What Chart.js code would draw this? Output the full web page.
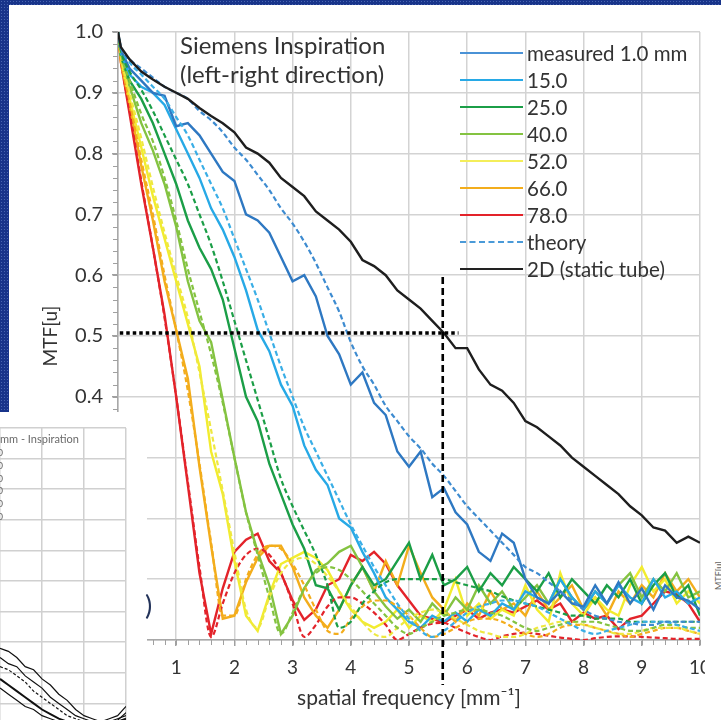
<!DOCTYPE html>
<html>
<head>
<meta charset="utf-8">
<script src="https://cdn.jsdelivr.net/npm/chart.js@4.4.1/dist/chart.umd.min.js"></script>
<style>
html, body { margin: 0; padding: 0; background: #fff; }
#stage { position: relative; width: 721px; height: 720px; overflow: hidden; background: #fff; font-family: Lato, 'Open Sans', sans-serif; color: #333; }
.blue { position: absolute; background-color: #18348a; background-image: radial-gradient(rgba(120,150,215,0.5) 0.6px, transparent 1px); background-size: 3px 3px; }
#main { position: absolute; left: 0; top: 0; }
#note { position: absolute; left: 180px; top: 30px; font-size: 24px; line-height: 29px; white-space: nowrap; }
#legend { position: absolute; left: 460px; top: 40px; }
.row { height: 26.9px; display: flex; align-items: center; font-size: 20.5px; white-space: nowrap; }
.row i { display: inline-block; width: 63px; height: 0; border-top: 2.2px solid; margin-right: 4px; }
.row i.dash { border-top-style: dashed; }
.cover { position: absolute; background: #fff; overflow: visible; }
#paren { position: absolute; left: 145px; top: 588px; font-size: 27px; color: #23335a; }
#insetBox { position: absolute; left: 0; top: 427px; width: 127px; height: 293px; background: #fff; overflow: hidden; }
#inset { position: absolute; left: 0; top: 0; }
#insetTitle { position: absolute; left: 0; top: 5px; font-size: 11px; color: #6a6a6a; white-space: nowrap; }
.insetKey { position: absolute; left: -22px; width: 25px; text-align: right; font-size: 10px; line-height: 12px; color: #6a6a6a; }
#sideLabel { position: absolute; left: 705px; top: 570px; width: 28px; font-size: 9px; color: #666; transform: rotate(-90deg); transform-origin: 14px 6px; }
</style>
</head>
<body>
<div id="stage">
  <canvas id="main" width="721" height="720"></canvas>
  <div id="note">Siemens Inspiration<br>(left-right direction)</div>
  <div id="legend"></div>

  <div class="blue" style="left:0;top:0;width:721px;height:5px;"></div>
  <div class="blue" style="left:0;top:0;width:9px;height:412px;"></div>

  <div class="cover" style="left:0;top:412px;width:147px;height:243px;"></div>
  <div id="paren">)</div>
  <div id="insetBox">
    <canvas id="inset" width="127" height="307"></canvas>
    <div id="insetTitle">mm - Inspiration</div>
  </div>
  <div class="cover" style="left:705px;top:412px;width:16px;height:308px;"></div>
  <div id="sideLabel">MTF[u]</div>
</div>

<script>
// spatial frequency samples [mm^-1]
const freq = [0, 0.05, 0.2, 0.4, 0.6, 0.8, 1.0, 1.2, 1.4,
  1.6, 1.8, 2.0, 2.2, 2.4, 2.6, 2.8, 3.0, 3.2, 3.4,
  3.6, 3.8, 4.0, 4.2, 4.4, 4.6, 4.8, 5.0, 5.2, 5.4,
  5.6, 5.8, 6.0, 6.2, 6.4, 6.6, 6.8, 7.0, 7.2, 7.4,
  7.6, 7.8, 8.0, 8.2, 8.4, 8.6, 8.8, 9.0, 9.2, 9.4,
  9.6, 9.8, 10.0];

// 2D (static tube)
const mtfStatic = [1.0, 0.975, 0.955, 0.935, 0.922, 0.91, 0.90, 0.89, 0.875,
  0.862, 0.85, 0.835, 0.81, 0.80, 0.785, 0.76, 0.745, 0.73, 0.705,
  0.69, 0.675, 0.655, 0.625, 0.615, 0.60, 0.575, 0.56, 0.545, 0.525,
  0.505, 0.48, 0.48, 0.445, 0.42, 0.41, 0.39, 0.36, 0.35, 0.335,
  0.32, 0.30, 0.285, 0.27, 0.255, 0.24, 0.22, 0.205, 0.185, 0.18,
  0.16, 0.17, 0.16];

// measured curves
const meas1 = [1.0, 0.97, 0.94, 0.92, 0.90, 0.895, 0.845, 0.85, 0.83,
  0.80, 0.77, 0.755, 0.70, 0.69, 0.67, 0.63, 0.59, 0.60, 0.565,
  0.50, 0.47, 0.42, 0.44, 0.39, 0.37, 0.31, 0.285, 0.31, 0.235,
  0.25, 0.21, 0.19, 0.145, 0.13, 0.175, 0.16, 0.10, 0.07, 0.06,
  0.08, 0.06, 0.055, 0.09, 0.06, 0.095, 0.06, 0.085, 0.05, 0.09,
  0.07, 0.065, 0.05];
const meas15 = [1.0, 0.965, 0.93, 0.91, 0.90, 0.88, 0.84, 0.80, 0.76,
  0.71, 0.675, 0.63, 0.575, 0.51, 0.475, 0.42, 0.385, 0.32, 0.28,
  0.255, 0.20, 0.185, 0.145, 0.11, 0.07, 0.05, 0.03, 0.02, 0.04,
  0.03, 0.045, 0.03, 0.05, 0.04, 0.06, 0.05, 0.08, 0.07, 0.06,
  0.10, 0.07, 0.05, 0.08, 0.06, 0.09, 0.07, 0.06, 0.10, 0.07,
  0.08, 0.06, 0.07];
const meas25 = [1.0, 0.96, 0.92, 0.89, 0.85, 0.80, 0.75, 0.69, 0.645,
  0.61, 0.56, 0.48, 0.40, 0.36, 0.29, 0.24, 0.19, 0.15, 0.09,
  0.085, 0.05, 0.09, 0.12, 0.09, 0.10, 0.13, 0.16, 0.10, 0.14,
  0.09, 0.10, 0.12, 0.08, 0.11, 0.09, 0.12, 0.10, 0.08, 0.11,
  0.07, 0.10, 0.08, 0.06, 0.09, 0.07, 0.10, 0.06, 0.09, 0.11,
  0.07, 0.09, 0.04];
const meas40 = [1.0, 0.96, 0.91, 0.85, 0.805, 0.75, 0.68, 0.59, 0.525,
  0.49, 0.395, 0.30, 0.21, 0.145, 0.09, 0.01, 0.04, 0.085, 0.115,
  0.126, 0.145, 0.155, 0.12, 0.08, 0.055, 0.035, 0.05, 0.03, 0.06,
  0.04, 0.07, 0.05, 0.09, 0.06, 0.08, 0.05, 0.07, 0.09, 0.06,
  0.10, 0.07, 0.05, 0.08, 0.06, 0.09, 0.11, 0.07, 0.10, 0.08,
  0.11, 0.07, 0.08];
const meas52 = [1.0, 0.955, 0.89, 0.81, 0.73, 0.66, 0.59, 0.52, 0.45,
  0.31, 0.24, 0.13, 0.04, 0.015, 0.075, 0.125, 0.135, 0.145, 0.135,
  0.115, 0.08, 0.05, 0.03, 0.02, 0.03, 0.05, 0.02, 0.04, 0.03,
  0.05, 0.10, 0.04, 0.06, 0.035, 0.05, 0.04, 0.09, 0.05, 0.03,
  0.11, 0.06, 0.04, 0.07, 0.05, 0.04, 0.09, 0.12, 0.08, 0.10,
  0.06, 0.08, 0.06];
const meas66 = [1.0, 0.95, 0.88, 0.78, 0.69, 0.59, 0.51, 0.43, 0.285,
  0.155, 0.035, 0.04, 0.095, 0.135, 0.155, 0.155, 0.12, 0.07, 0.04,
  0.02, 0.05, 0.09, 0.12, 0.08, 0.13, 0.09, 0.155, 0.11, 0.07,
  0.05, 0.03, 0.06, 0.04, 0.08, 0.05, 0.06, 0.04, 0.08, 0.05,
  0.07, 0.09, 0.05, 0.07, 0.04, 0.08, 0.06, 0.09, 0.07, 0.11,
  0.08, 0.10, 0.07];
const meas78 = [1.0, 0.95, 0.865, 0.75, 0.645, 0.535, 0.40, 0.255, 0.11,
  0.01, 0.085, 0.145, 0.165, 0.175, 0.13, 0.11, 0.065, 0.033, 0.05,
  0.09, 0.10, 0.14, 0.13, 0.145, 0.125, 0.09, 0.065, 0.04, 0.035,
  0.028, 0.04, 0.05, 0.035, 0.045, 0.05, 0.045, 0.055, 0.065, 0.05,
  0.06, 0.03, 0.045, 0.035, 0.04, 0.018, 0.035, 0.04, 0.06, 0.08,
  0.075, 0.06, 0.03];

// theory curves
const theo1 = [1.0, 0.975, 0.955, 0.94, 0.925, 0.91, 0.90, 0.89, 0.87,
  0.855, 0.835, 0.81, 0.79, 0.765, 0.74, 0.71, 0.685, 0.655, 0.62,
  0.58, 0.54, 0.49, 0.45, 0.42, 0.385, 0.36, 0.335, 0.315, 0.29,
  0.27, 0.245, 0.22, 0.20, 0.18, 0.16, 0.14, 0.12, 0.11, 0.095,
  0.08, 0.065, 0.05, 0.04, 0.035, 0.03, 0.028, 0.025, 0.025, 0.03,
  0.03, 0.03, 0.03];
const theo15 = [1.0, 0.975, 0.95, 0.93, 0.91, 0.89, 0.86, 0.83, 0.79,
  0.75, 0.71, 0.66, 0.61, 0.56, 0.505, 0.45, 0.40, 0.35, 0.31,
  0.27, 0.23, 0.19, 0.155, 0.12, 0.09, 0.06, 0.035, 0.015, 0.005,
  0.015, 0.03, 0.045, 0.055, 0.06, 0.065, 0.065, 0.06, 0.055, 0.045,
  0.035, 0.025, 0.015, 0.01, 0.015, 0.02, 0.025, 0.03, 0.03, 0.03,
  0.025, 0.02, 0.015];
const theo25 = [1.0, 0.97, 0.935, 0.905, 0.87, 0.83, 0.79, 0.75, 0.70,
  0.65, 0.59, 0.525, 0.46, 0.395, 0.33, 0.265, 0.22, 0.18, 0.14,
  0.09, 0.02, 0.03, 0.06, 0.08, 0.095, 0.10, 0.10, 0.10, 0.10,
  0.10, 0.095, 0.09, 0.085, 0.08, 0.072, 0.065, 0.06, 0.055, 0.05,
  0.045, 0.04, 0.04, 0.035, 0.035, 0.035, 0.03, 0.03, 0.03, 0.03,
  0.03, 0.03, 0.03];
const theo40 = [1.0, 0.965, 0.92, 0.865, 0.82, 0.76, 0.69, 0.61, 0.54,
  0.47, 0.39, 0.30, 0.21, 0.14, 0.07, 0.01, 0.045, 0.085, 0.11,
  0.12, 0.115, 0.10, 0.08, 0.06, 0.04, 0.02, 0.01, 0.02, 0.03,
  0.04, 0.045, 0.05, 0.05, 0.045, 0.04, 0.03, 0.02, 0.015, 0.02,
  0.025, 0.03, 0.03, 0.03, 0.025, 0.02, 0.015, 0.015, 0.02, 0.025,
  0.025, 0.02, 0.02];
const theo52 = [1.0, 0.96, 0.90, 0.825, 0.745, 0.67, 0.60, 0.53, 0.44,
  0.345, 0.245, 0.145, 0.05, 0.02, 0.07, 0.11, 0.13, 0.135, 0.125,
  0.105, 0.08, 0.055, 0.03, 0.01, 0.005, 0.02, 0.035, 0.045, 0.05,
  0.045, 0.035, 0.025, 0.015, 0.01, 0.005, 0.005, 0.01, 0.02, 0.025,
  0.03, 0.03, 0.025, 0.02, 0.015, 0.01, 0.01, 0.015, 0.02, 0.02,
  0.02, 0.015, 0.01];
const theo66 = [1.0, 0.955, 0.885, 0.79, 0.70, 0.60, 0.51, 0.41, 0.29,
  0.16, 0.04, 0.04, 0.10, 0.14, 0.155, 0.15, 0.125, 0.09, 0.05,
  0.015, 0.01, 0.035, 0.055, 0.065, 0.065, 0.055, 0.04, 0.02, 0.005,
  0.01, 0.02, 0.03, 0.035, 0.035, 0.03, 0.02, 0.01, 0.005, 0.01,
  0.02, 0.025, 0.025, 0.02, 0.015, 0.01, 0.005, 0.01, 0.015, 0.02,
  0.02, 0.015, 0.01];
const theo78 = [1.0, 0.955, 0.87, 0.755, 0.645, 0.53, 0.40, 0.26, 0.12,
  0.005, 0.06, 0.11, 0.14, 0.15, 0.14, 0.11, 0.06, 0.005, 0.025,
  0.055, 0.07, 0.07, 0.06, 0.045, 0.025, 0.0, 0.01, 0.02, 0.027,
  0.028, 0.02, 0.012, 0.005, 0.0, 0.006, 0.01, 0.012, 0.01, 0.007,
  0.004, 0.002, 0.0, 0.003, 0.005, 0.006, 0.006, 0.005, 0.004, 0.003,
  0.002, 0.002, 0.002];

// 50 % MTF marker
const markFreqH = [0.03, 5.85];
const markMtfH = [0.505, 0.505];
const markFreqV = [5.58, 5.58];
const markMtfV = [0.597, -0.074];

// legend labels
const legendLabels = ['measured 1.0 mm', '15.0', '25.0', '40.0', '52.0', '66.0', '78.0', 'theory', '2D (static tube)'];
const legendColors = ['#4a92d6', '#27a9e6', '#1b9e47', '#84c341', '#f4ee5a', '#f3ad1c', '#e3232a', '#4a9ad8', '#222'];

// partly hidden inset chart (bottom left)
const insetFreq = [0, 0.2, 0.4, 0.6, 0.8, 1.0, 1.2, 1.4, 1.6, 1.8, 2.0, 2.2, 2.4, 2.6, 2.8, 3.0];
const insetA = [0.28, 0.27, 0.25, 0.22, 0.21, 0.18, 0.16, 0.13, 0.11, 0.08, 0.06, 0.05, 0.04, 0.05, 0.06, 0.09];
const insetB = [0.25, 0.23, 0.22, 0.19, 0.17, 0.15, 0.12, 0.10, 0.08, 0.06, 0.05, 0.04, 0.04, 0.04, 0.05, 0.06];
const insetC = [0.22, 0.21, 0.19, 0.17, 0.14, 0.12, 0.10, 0.08, 0.06, 0.05, 0.04, 0.03, 0.03, 0.04, 0.04, 0.05];
const insetD = [0.18, 0.16, 0.14, 0.12, 0.10, 0.08, 0.065, 0.05, 0.04, 0.03, 0.03, 0.03, 0.035, 0.03, 0.04, 0.05];
const insetE = [0.15, 0.13, 0.11, 0.09, 0.08, 0.06, 0.05, 0.04, 0.035, 0.03, 0.025, 0.03, 0.03, 0.035, 0.045, 0.07];
const insetKeys = ['1.0', '15.0', '25.0', '40.0', '52.0', '66.0'];

function pts(xs, ys) {
    return xs.map((x, i) => ({x: x, y: ys[i]}));
}

function solid(ys, color) {
    return { data: pts(freq, ys), borderColor: color, borderWidth: 2.4, pointRadius: 0, tension: 0 };
}

function dashed(ys, color) {
    return { data: pts(freq, ys), borderColor: color, borderWidth: 2.2, borderDash: [5, 3],
             pointRadius: 0, cubicInterpolationMode: 'monotone' };
}

const datasets = [
    { data: pts(markFreqH, markMtfH), borderColor: '#000', borderWidth: 3.5, borderDash: [3.5, 3], pointRadius: 0, clip: false },
    { data: pts(markFreqV, markMtfV), borderColor: '#000', borderWidth: 2.6, borderDash: [7, 4], pointRadius: 0, clip: false },
    solid(mtfStatic, '#1e1e1e'),
    dashed(theo1, '#3d8bd0'),
    dashed(theo15, '#3aaee6'),
    dashed(theo25, '#1b9e47'),
    dashed(theo40, '#84c341'),
    dashed(theo52, '#eee840'),
    dashed(theo66, '#f3ad1c'),
    dashed(theo78, '#e3232a'),
    solid(meas1, '#2e78c2'),
    solid(meas15, '#27a9e6'),
    solid(meas25, '#1b9e47'),
    solid(meas40, '#84c341'),
    solid(meas52, '#f2ec2e'),
    solid(meas66, '#f3ad1c'),
    solid(meas78, '#e3232a')
];

// small minor tick marks like the spreadsheet axis
const minorTicks = {
    id: 'minorTicks',
    afterDraw(chart) {
        const {ctx, scales: {x, y}} = chart;
        ctx.save();
        ctx.strokeStyle = '#a0a0a0';
        ctx.lineWidth = 1;
        ctx.beginPath();
        for (let i = 0; i <= 50; i++) {
            const py = Math.round(y.getPixelForValue(i * 0.02)) + 0.5;
            ctx.moveTo(x.left - 5, py);
            ctx.lineTo(x.left, py);
            const px = Math.round(x.getPixelForValue(i * 0.2)) + 0.5;
            ctx.moveTo(px, y.bottom);
            ctx.lineTo(px, y.bottom + 5);
        }
        ctx.stroke();
        ctx.restore();
    }
};

const gridStyle = { color: '#d3d3d3', lineWidth: 1.5, tickLength: 6, tickColor: '#a0a0a0' };

new Chart(document.getElementById('main'), {
    type: 'line',
    data: { datasets: datasets },
    options: {
        responsive: false,
        animation: false,
        layout: { padding: { left: 0, top: 32, right: 4, bottom: 0 } },
        plugins: { legend: { display: false }, tooltip: { enabled: false } },
        scales: {
            x: {
                type: 'linear', min: 0, max: 10,
                afterFit: s => { s.height = 80; },
                ticks: { stepSize: 1, color: '#333', font: { family: 'Lato', size: 19 }, padding: 10, maxRotation: 0 },
                grid: gridStyle,
                border: { color: '#a8a8a8', width: 1.5 },
                title: { display: true, text: 'spatial frequency [mm\u207B\u00B9]', color: '#333',
                         font: { family: 'Lato', size: 21 }, padding: { top: 0, bottom: 9 } }
            },
            y: {
                min: 0, max: 1,
                afterFit: s => { s.width = 118; },
                ticks: { stepSize: 0.1, color: '#333', font: { family: 'Lato', size: 20 }, padding: 9,
                         callback: v => v.toFixed(1) },
                grid: gridStyle,
                border: { color: '#a8a8a8', width: 1.5 },
                title: { display: true, text: 'MTF[u]', color: '#333',
                         font: { family: 'Lato', size: 19 }, padding: { top: 39, bottom: 0 } }
            }
        }
    },
    plugins: [minorTicks]
});

// legend (drawn as page text)
const legendBox = document.getElementById('legend');
legendLabels.forEach((label, i) => {
    const row = document.createElement('div');
    row.className = 'row';
    const line = document.createElement('i');
    if (label === 'theory') line.className = 'dash';
    line.style.borderTopColor = legendColors[i];
    row.appendChild(line);
    row.appendChild(document.createTextNode(label));
    legendBox.appendChild(row);
});

// inset chart
const insetBox = document.getElementById('insetBox');
insetKeys.forEach((k, i) => {
    const d = document.createElement('div');
    d.className = 'insetKey';
    d.style.top = (19 + i * 12.8) + 'px';
    d.textContent = k;
    insetBox.appendChild(d);
});

const insetSets = [insetA, insetB, insetC, insetD, insetE].map((ys, i) => ({
    data: pts(insetFreq, ys),
    borderColor: '#111',
    borderWidth: i === 3 ? 2 : 1.2,
    borderDash: i === 2 ? [3, 2] : [],
    pointRadius: 0,
    tension: 0
}));

new Chart(document.getElementById('inset'), {
    type: 'line',
    data: { datasets: insetSets },
    options: {
        responsive: false,
        animation: false,
        layout: { padding: { left: 0, top: 1, right: 1, bottom: 0 } },
        plugins: { legend: { display: false }, tooltip: { enabled: false } },
        scales: {
            x: { type: 'linear', min: 0, max: 3, afterFit: s => { s.height = 0; },
                 ticks: { display: false, stepSize: 1 }, grid: { color: '#d0d0d0', lineWidth: 1.5, drawTicks: false },
                 border: { display: false } },
            y: { min: 0, max: 1, afterFit: s => { s.width = 0; },
                 ticks: { display: false, stepSize: 0.1 }, grid: { color: '#d0d0d0', lineWidth: 1.5, drawTicks: false },
                 border: { display: false } }
        }
    }
});
</script>
</body>
</html>
